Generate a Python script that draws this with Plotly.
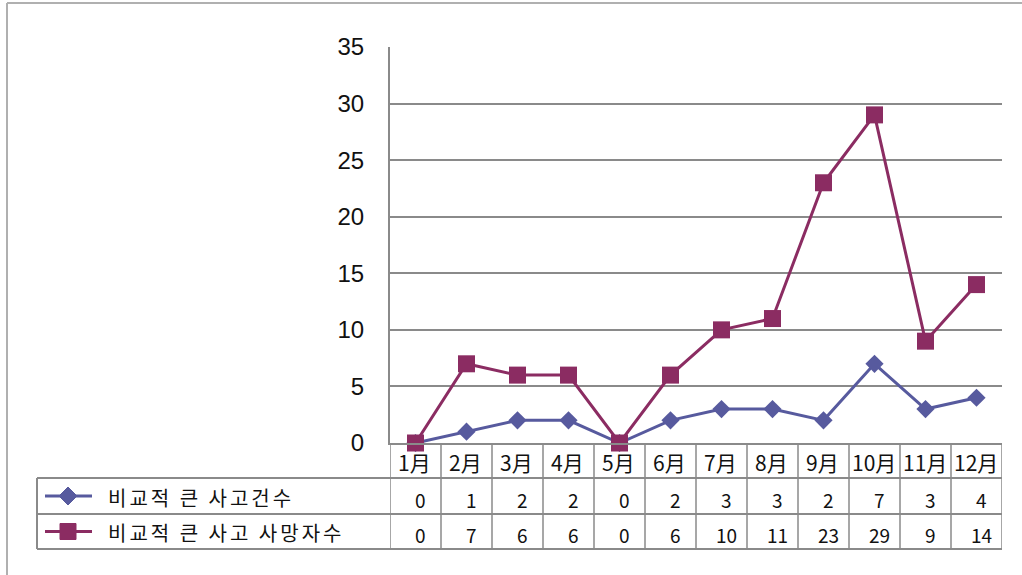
import plotly.graph_objects as go

# ---- data ----
months = ["1月", "2月", "3月", "4月", "5月", "6月", "7月", "8月", "9月", "10月", "11月", "12月"]
series_names = ["비교적 큰 사고건수", "비교적 큰 사고 사망자수"]
accidents = [0, 1, 2, 2, 0, 2, 3, 3, 2, 7, 3, 4]
deaths = [0, 7, 6, 6, 0, 6, 10, 11, 23, 29, 9, 14]
y_ticks = [0, 5, 10, 15, 20, 25, 30, 35]

# ---- layout helpers (pixel -> paper) ----
W, H = 1022, 575
def px(x):
    return x / W
def py(y):
    return 1 - y / H

C_ACC = "#575A9E"
C_DEA = "#8B2C62"
GRID = "#8A8A8A"
FONT = "Noto Sans CJK KR"

PLOT_L, PLOT_R, PLOT_T, PLOT_B = 390, 1002, 47, 443
ROW_H_BOT, ROW1_BOT, ROW2_BOT = 478, 514, 549
TABLE_L = 37

fig = go.Figure()
x_idx = list(range(len(months)))

fig.add_trace(go.Scatter(
    x=x_idx, y=accidents, mode="lines+markers", name=series_names[0],
    line=dict(color=C_ACC, width=3),
    marker=dict(symbol="diamond", size=14, color=C_ACC),
    cliponaxis=False, showlegend=False))
fig.add_trace(go.Scatter(
    x=x_idx, y=deaths, mode="lines+markers", name=series_names[1],
    line=dict(color=C_DEA, width=3),
    marker=dict(symbol="square", size=17, color=C_DEA),
    cliponaxis=False, showlegend=False))

shapes = []
# outer chart border (top and left visible)
shapes.append(dict(type="line", xref="paper", yref="paper", x0=px(7), x1=px(W), y0=py(3), y1=py(3),
                   line=dict(color="#B0B0B0", width=2)))
shapes.append(dict(type="line", xref="paper", yref="paper", x0=px(7), x1=px(7), y0=py(3), y1=py(H),
                   line=dict(color="#B0B0B0", width=2)))

# data table horizontal lines
for yy in (ROW_H_BOT, ROW1_BOT, ROW2_BOT):
    shapes.append(dict(type="line", xref="paper", yref="paper", x0=px(TABLE_L), x1=px(PLOT_R),
                       y0=py(yy), y1=py(yy), line=dict(color=GRID, width=2)))
# left border of legend column
shapes.append(dict(type="line", xref="paper", yref="paper", x0=px(TABLE_L), x1=px(TABLE_L),
                   y0=py(ROW_H_BOT), y1=py(ROW2_BOT), line=dict(color=GRID, width=2)))
# column separators via x axis
for i in range(len(months) + 1):
    shapes.append(dict(type="line", xref="x", yref="paper", x0=i - 0.5, x1=i - 0.5,
                       y0=py(PLOT_B), y1=py(ROW2_BOT), line=dict(color=GRID, width=1.5)))

# legend keys inside table
def key(cy, color, symbol):
    out = [dict(type="line", xref="paper", yref="paper", x0=px(45), x1=px(92), y0=py(cy), y1=py(cy),
                line=dict(color=color, width=3))]
    cx = 68
    if symbol == "diamond":
        r = 9
        path = (f"M {px(cx-r)},{py(cy)} L {px(cx)},{py(cy-r)} L {px(cx+r)},{py(cy)} "
                f"L {px(cx)},{py(cy+r)} Z")
    else:
        r = 8
        path = (f"M {px(cx-r)},{py(cy-r)} L {px(cx+r)},{py(cy-r)} L {px(cx+r)},{py(cy+r)} "
                f"L {px(cx-r)},{py(cy+r)} Z")
    out.append(dict(type="path", xref="paper", yref="paper", path=path,
                    fillcolor=color, line=dict(color=color, width=1)))
    return out

row_centers = [(ROW_H_BOT + ROW1_BOT) / 2, (ROW1_BOT + ROW2_BOT) / 2]
shapes += key(row_centers[0], C_ACC, "diamond")
shapes += key(row_centers[1], C_DEA, "square")

annotations = []
# month header
for i, m in enumerate(months):
    annotations.append(dict(x=i, y=py((PLOT_B + ROW_H_BOT) / 2 + 1), xref="x", yref="paper",
                            text=m, showarrow=False, xanchor="center", yanchor="middle",
                            xshift=-1, font=dict(family=FONT, size=21, color="#111")))
# values
for r, vals in enumerate([accidents, deaths]):
    for i, v in enumerate(vals):
        annotations.append(dict(x=i, y=py(row_centers[r] + 3), xref="x", yref="paper",
                                text=str(v), showarrow=False, xanchor="center", yanchor="middle",
                                xshift=5, font=dict(family=FONT, size=19, color="#111")))
# series names
for r, nm in enumerate(series_names):
    annotations.append(dict(x=px(106), y=py(row_centers[r] + 1), xref="paper", yref="paper",
                            text=f'<span style="letter-spacing:3px">{nm}</span>', showarrow=False,
                            xanchor="left", yanchor="middle",
                            font=dict(family=FONT, size=20, color="#111")))

fig.update_layout(
    width=W, height=H, autosize=False,
    margin=dict(l=0, r=0, t=0, b=0, pad=0, autoexpand=False),
    paper_bgcolor="white", plot_bgcolor="white",
    showlegend=False,
    shapes=shapes, annotations=annotations,
    xaxis=dict(domain=[px(PLOT_L), px(PLOT_R)], range=[-0.5, len(months) - 0.5],
               showticklabels=False, showgrid=False, zeroline=False, ticks="",
               showline=True, linecolor=GRID, linewidth=2, fixedrange=True, automargin=False),
    yaxis=dict(domain=[py(PLOT_B), py(PLOT_T)], range=[0, 35], tickvals=y_ticks,
               showgrid=True, gridcolor=GRID, gridwidth=2, zeroline=False,
               showline=True, linecolor=GRID, linewidth=2, ticks="",
               ticklabelstandoff=19, automargin=False,
               tickfont=dict(family="Liberation Sans", size=24, color="#111"), fixedrange=True),
)

fig.write_html(
    "out.html",
    config={"displayModeBar": False},
    post_script="document.body.style.margin='0';document.body.style.overflow='hidden';",
)
